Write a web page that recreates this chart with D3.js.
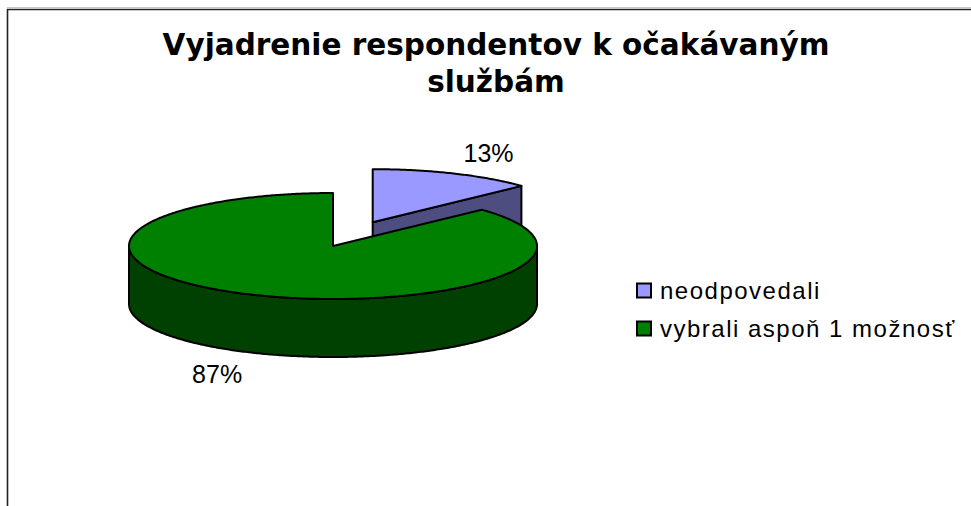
<!DOCTYPE html>
<html>
<head>
<meta charset="utf-8">
<script src="https://cdn.jsdelivr.net/npm/d3@7"></script>
<style>
    body { margin: 0; background: #fff; }
    svg { display: block; }
</style>
</head>
<body>
<script>
var width = 971,
    height = 506;

// data
var categories = ["neodpovedali", "vybrali aspoň 1 možnosť"];
var values = [13, 87];
var labels = ["13%", "87%"];
var titleLines = ["Vyjadrenie respondentov k očakávaným", "službám"];

var topColors = ["#9999ff", "#008000"];
var sideColors = ["#4d4d80", "#004000"];

// pie geometry (ellipse projection)
var cx = 333,
    cy = 246,
    rx = 204,
    ry = 53,
    depth = 58,
    explode = [0.49, 0]; // fraction of radius
var labelK = 1.43;

var svg = d3.select("body").append("svg")
    .attr("width", width)
    .attr("height", height);

// frame
svg.append("line")
    .attr("x1", 7).attr("y1", 7.5).attr("x2", width).attr("y2", 7.5)
    .style("stroke", "#c8c8c8").style("stroke-width", 1);
svg.append("path")
    .attr("d", "M7.5," + height + "V9.5H" + width)
    .style("fill", "none")
    .style("stroke", "#222")
    .style("stroke-width", 1.6);

// title
svg.append("text")
    .attr("x", 496)
    .attr("y", 55)
    .attr("text-anchor", "middle")
    .style("font-family", "'DejaVu Sans', Verdana, sans-serif")
    .style("font-weight", "bold")
    .style("font-size", "29.5px")
    .selectAll("tspan")
    .data(titleLines)
    .enter().append("tspan")
    .attr("x", 496)
    .attr("dy", function(d, i) { return i === 0 ? 0 : 37; })
    .text(function(d) { return d; });

var pie = d3.pie().sort(null).value(function(d) { return d; });
var arcs = pie(values);

arcs.forEach(function(d, i) {
    var mid = (d.startAngle + d.endAngle) / 2;
    d.index = i;
    d.mid = mid;
    d.ox = cx + explode[i] * rx * Math.sin(mid);
    d.oy = cy - explode[i] * ry * Math.cos(mid);
});

function pt(d, a, dz) {
    return [d.ox + rx * Math.sin(a), d.oy - ry * Math.cos(a) + (dz || 0)];
}

function arcPoints(d, a0, a1, dz) {
    var n = Math.max(2, Math.ceil((a1 - a0) / 0.01));
    return d3.range(n + 1).map(function(k) {
        return pt(d, a0 + (a1 - a0) * k / n, dz);
    });
}

var line = d3.line();

// back slices first
var order = arcs.slice().sort(function(a, b) {
    return -Math.cos(a.mid) - (-Math.cos(b.mid));
});

order.forEach(function(d) {
    var g = svg.append("g");
    var i = d.index;
    var apex = [d.ox, d.oy],
        apexB = [d.ox, d.oy + depth];

    // cut faces
    [[d.startAngle, -Math.sin(d.startAngle)], [d.endAngle, Math.sin(d.endAngle)]].forEach(function(c) {
        if (c[1] > 1e-6) {
            g.append("path")
                .attr("d", line([apex, pt(d, c[0]), pt(d, c[0], depth), apexB]) + "Z")
                .style("fill", sideColors[i])
                .style("stroke", "#000")
                .style("stroke-width", 2)
                .style("stroke-linejoin", "round");
        }
    });

    // outer rim (front half only)
    var r0 = Math.max(d.startAngle, Math.PI / 2),
        r1 = Math.min(d.endAngle, 3 * Math.PI / 2);
    if (r1 > r0) {
        var pts = arcPoints(d, r0, r1, 0).concat(arcPoints(d, r0, r1, depth).reverse());
        g.append("path")
            .attr("d", line(pts) + "Z")
            .style("fill", sideColors[i])
            .style("stroke", "#000")
            .style("stroke-width", 2)
            .style("stroke-linejoin", "round");
    }

    // top face
    g.append("path")
        .attr("d", line([apex].concat(arcPoints(d, d.startAngle, d.endAngle, 0))) + "Z")
        .style("fill", topColors[i])
        .style("stroke", "#000")
        .style("stroke-width", 2)
        .style("stroke-linejoin", "round");
});

// data labels
svg.selectAll(".lbl")
    .data(arcs)
    .enter().append("text")
    .attr("class", "lbl")
    .attr("x", function(d) { return d.ox + labelK * rx * Math.sin(d.mid); })
    .attr("y", function(d) {
        return d.oy - labelK * ry * Math.cos(d.mid) + (Math.cos(d.mid) < 0 ? depth : 0) + 9;
    })
    .attr("text-anchor", "middle")
    .style("font-family", "'Liberation Sans', Arial, sans-serif")
    .style("font-size", "25px")
    .style("fill", "#000")
    .text(function(d, i) { return labels[i]; });

// legend
var legend = svg.selectAll(".legend")
    .data(categories)
    .enter().append("g")
    .attr("class", "legend")
    .attr("transform", function(d, i) { return "translate(637," + (290.5 + i * 38) + ")"; });

legend.append("rect")
    .attr("x", 0)
    .attr("y", -7)
    .attr("width", 14)
    .attr("height", 14)
    .style("fill", function(d, i) { return topColors[i]; })
    .style("stroke", "#000")
    .style("stroke-width", 2);

legend.append("text")
    .attr("x", 23)
    .attr("y", 8)
    .style("font-family", "'Liberation Sans', Arial, sans-serif")
    .style("font-size", "24px")
    .style("letter-spacing", "1.5px")
    .style("fill", "#000")
    .text(function(d) { return d; });
</script>
</body>
</html>
